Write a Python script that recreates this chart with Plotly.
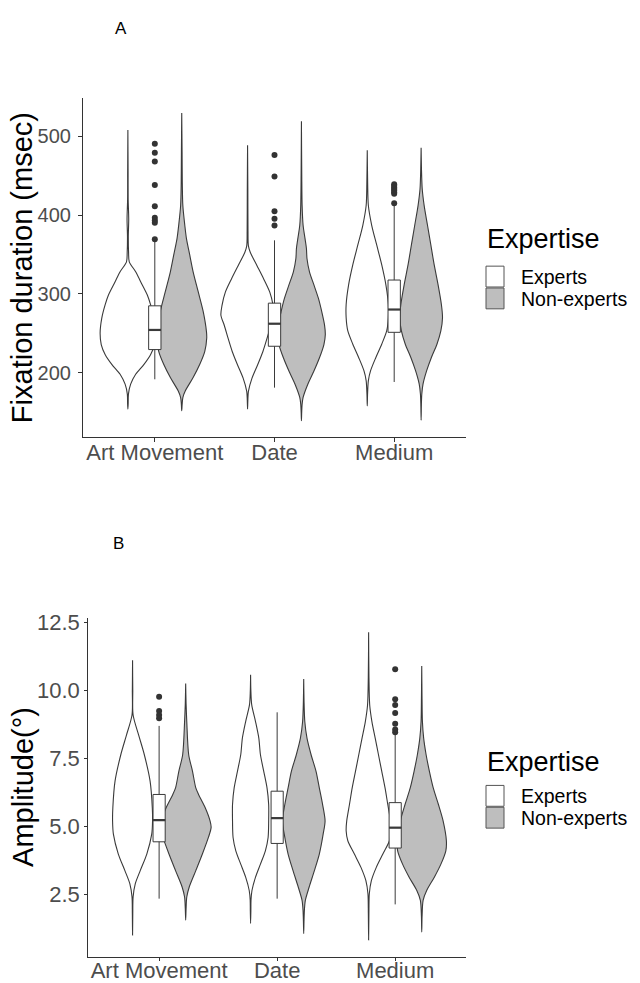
import plotly.graph_objects as go

# ---------------- data ----------------
categories = ["Art Movement", "Date", "Medium"]
groups = ["Experts", "Non-experts"]

# violin density profiles: (value, relative half-width)
# Panel A: fixation duration (msec)
fa_exp_art = [(153.8, 0), (160, 0.01), (172.8, 0.02), (185.4, 0.10), (198, 0.28), (210.6, 0.58),
              (223.2, 0.82), (235.7, 0.96), (250.4, 1.0), (269.3, 0.94), (286, 0.82), (298.6, 0.70),
              (315.4, 0.46), (328, 0.28), (340.6, 0.05), (352, 0.025), (372, 0.015), (395, 0.03),
              (420, 0.01), (455, 0.008), (507.7, 0)]
fa_non_art = [(151.6, 0), (160, 0.015), (168.5, 0.04), (177, 0.13), (193.8, 0.41), (210.6, 0.65),
              (227, 0.83), (244, 0.90), (252, 0.89), (278, 0.77), (303, 0.59), (328, 0.41),
              (349, 0.29), (370, 0.17), (387, 0.11), (412, 0.04), (440, 0.02), (480, 0.012), (529.5, 0)]
fa_exp_date = [(153.9, 0), (165, 0.01), (176.2, 0.03), (193, 0.16), (209.8, 0.36), (226.6, 0.55),
               (243.4, 0.70), (260.2, 0.84), (272.8, 0.96), (285.4, 0.92), (302.1, 0.80), (318.9, 0.58),
               (335.7, 0.34), (352.5, 0.10), (360.9, 0.03), (380, 0.015), (430, 0.01), (488.4, 0)]
fa_non_date = [(139, 0), (150, 0.01), (160, 0.025), (168.6, 0.06), (185.4, 0.23), (202.1, 0.45),
               (218.9, 0.65), (235.7, 0.81), (248.3, 0.86), (260.9, 0.83), (277.7, 0.73), (294.5, 0.61),
               (311.3, 0.45), (328, 0.29), (344.9, 0.20), (357.5, 0.18), (370, 0.13), (387, 0.06),
               (412, 0.025), (450, 0.012), (519, 0)]
fa_exp_med = [(157.9, 0), (172, 0.01), (189.9, 0.04), (202.5, 0.12), (219.3, 0.31), (236.1, 0.52),
              (252.9, 0.70), (269.7, 0.76), (286.5, 0.76), (311.7, 0.67), (337, 0.52), (362, 0.34),
              (387, 0.16), (412, 0.04), (440, 0.015), (482.1, 0)]
fa_non_med = [(139.8, 0), (160, 0.01), (173, 0.025), (185.7, 0.07), (202.5, 0.2), (219.3, 0.37),
              (236.1, 0.57), (252.9, 0.71), (269.7, 0.77), (286.5, 0.73), (311.7, 0.61), (337, 0.47),
              (362, 0.35), (387, 0.23), (412, 0.11), (433, 0.04), (460, 0.012), (485.4, 0)]

# Panel B: amplitude (deg)
am_exp_art = [(1.01, 0), (1.8, 0.008), (2.41, 0.02), (2.90, 0.10), (3.38, 0.28), (3.99, 0.52),
              (4.72, 0.70), (5.21, 0.73), (5.70, 0.72), (6.67, 0.64), (7.64, 0.43), (8.37, 0.22),
              (9.10, 0.02), (10.0, 0.008), (11.11, 0)]
am_non_art = [(1.56, 0), (2.0, 0.015), (2.41, 0.04), (2.78, 0.13), (3.38, 0.37), (3.99, 0.61),
              (4.60, 0.83), (4.97, 0.93), (5.21, 0.89), (5.70, 0.71), (6.18, 0.47), (6.42, 0.37),
              (7.03, 0.25), (7.64, 0.11), (8.86, 0.04), (9.5, 0.015), (10.26, 0)]
am_exp_date = [(1.44, 0), (1.9, 0.01), (2.29, 0.015), (2.65, 0.05), (3.14, 0.18), (3.62, 0.36),
               (4.11, 0.54), (4.60, 0.64), (5.21, 0.66), (5.81, 0.66), (6.42, 0.60), (7.03, 0.48),
               (7.64, 0.36), (8.25, 0.30), (8.86, 0.18), (9.48, 0.04), (10.0, 0.01), (10.58, 0)]
am_non_date = [(1.07, 0), (1.5, 0.01), (1.93, 0.025), (2.29, 0.06), (2.78, 0.20), (3.38, 0.39),
               (3.99, 0.57), (4.72, 0.71), (5.21, 0.78), (5.81, 0.69), (6.42, 0.57), (7.03, 0.45),
               (7.64, 0.27), (8.25, 0.12), (8.86, 0.04), (9.6, 0.012), (10.42, 0)]
am_exp_med = [(0.83, 0), (1.8, 0.01), (2.53, 0.025), (3.01, 0.10), (3.50, 0.28), (3.99, 0.52),
              (4.48, 0.76), (4.84, 0.82), (5.21, 0.80), (5.81, 0.70), (6.42, 0.60), (7.03, 0.48),
              (7.64, 0.36), (8.25, 0.24), (8.86, 0.12), (9.46, 0.04), (10.5, 0.012), (12.14, 0)]
am_non_med = [(1.13, 0), (1.7, 0.012), (2.29, 0.05), (2.65, 0.18), (3.14, 0.46), (3.62, 0.70),
              (4.11, 0.88), (4.48, 0.90), (5.21, 0.78), (5.81, 0.61), (6.42, 0.42), (7.03, 0.28),
              (7.64, 0.16), (8.25, 0.07), (8.86, 0.025), (9.8, 0.01), (10.90, 0)]

# boxplot statistics per category
fa_q1 = [229.3, 233.5, 251.2]
fa_median = [254.2, 262.1, 280.1]
fa_q3 = [284.8, 288.2, 317.5]
fa_lower = [191.6, 181.0, 188.2]
fa_upper = [365.8, 367.9, 412.0]
fa_outliers = [[490.4, 479.1, 467.8, 438.0, 411.0, 396.5, 393.0, 390.2, 369.1],
               [476.2, 448.9, 404.8, 395.2, 386.8],
               [415.0, 427.0, 429.0, 431.0, 433.0, 435.0, 437.0, 439.0]]

am_q1 = [4.44, 4.38, 4.21]
am_median = [5.24, 5.31, 4.96]
am_q3 = [6.18, 6.30, 5.88]
am_lower = [2.35, 2.35, 2.14]
am_upper = [8.70, 9.20, 8.43]
am_outliers = [[9.77, 9.25, 9.10, 8.98],
               [],
               [10.78, 9.68, 9.47, 9.17, 8.78, 8.57, 8.47]]

fa_ticks = [200, 300, 400, 500]
am_ticks = [2.5, 5.0, 7.5, 10.0, 12.5]

# ---------------- styling ----------------
W, H = 640, 983
LINE = "#3a3a3a"
GREY = "#bebebe"
FILLS = {"Experts": "white", "Non-experts": GREY}
DODGE = 0.225
VHALF = 0.232
BOXW = 0.103
FONT = "Liberation Sans, Arial, sans-serif"
XRANGE = [0.4, 3.6]
FA_RANGE = [118.5, 548]
AM_RANGE = [0.21, 12.68]

fig = go.Figure()

def add_panel(profiles, q1, med, q3, lo, hi, outliers, xa, ya, xo, yo):
    # violins (base subplot)
    for ci, cat in enumerate(categories):
        for gi, g in enumerate(groups):
            prof = profiles[ci][gi]
            c = ci + 1 + (-DODGE if gi == 0 else DODGE)
            ys = [p[0] for p in prof]
            ws = [p[1] for p in prof]
            xs = [c + VHALF * w for w in ws] + [c - VHALF * w for w in ws[::-1]]
            yy = ys + ys[::-1]
            fig.add_trace(go.Scatter(
                x=xs, y=yy, mode="lines", fill="toself", fillcolor=FILLS[g],
                line=dict(color=LINE, width=1.1, shape="spline", smoothing=0.8),
                xaxis=xa, yaxis=ya, hoverinfo="skip", showlegend=False, name=g))
    # boxes (overlay subplot so they sit above the violins)
    pos = [i + 1 for i in range(len(categories))]
    fig.add_trace(go.Box(
        x=pos, q1=q1, median=med, q3=q3, lowerfence=lo, upperfence=hi,
        width=BOXW, whiskerwidth=0, fillcolor="white", boxpoints=False,
        line=dict(color=LINE, width=1), xaxis=xo, yaxis=yo, showlegend=False,
        hoverinfo="skip"))
    # thicker median lines
    for i, m in enumerate(med):
        fig.add_trace(go.Scatter(
            x=[pos[i] - BOXW / 2, pos[i] + BOXW / 2], y=[m, m], mode="lines",
            line=dict(color=LINE, width=2.2), xaxis=xo, yaxis=yo,
            hoverinfo="skip", showlegend=False))
    # outliers
    for i, pts in enumerate(outliers):
        if pts:
            fig.add_trace(go.Scatter(
                x=[pos[i]] * len(pts), y=pts, mode="markers",
                marker=dict(color="#333333", size=6), xaxis=xo, yaxis=yo,
                hoverinfo="skip", showlegend=False))

add_panel([[fa_exp_art, fa_non_art], [fa_exp_date, fa_non_date], [fa_exp_med, fa_non_med]],
          fa_q1, fa_median, fa_q3, fa_lower, fa_upper, fa_outliers, "x", "y", "x3", "y3")
add_panel([[am_exp_art, am_non_art], [am_exp_date, am_non_date], [am_exp_med, am_non_med]],
          am_q1, am_median, am_q3, am_lower, am_upper, am_outliers, "x2", "y2", "x4", "y4")

def px_x(p):
    return p / W

def px_y(p):
    return 1 - p / H

axis_common = dict(showline=True, linecolor="#333333", linewidth=1.1, showgrid=False,
                   zeroline=False, ticks="outside", tickcolor="#333333", tickwidth=1.1)
hidden = dict(visible=False, showgrid=False, zeroline=False)

fig.update_layout(
    width=W, height=H, margin=dict(l=0, r=0, t=0, b=0),
    paper_bgcolor="white", plot_bgcolor="white",
    showlegend=False,
    xaxis=dict(domain=[px_x(83), px_x(466)], range=XRANGE, tickvals=[1, 2, 3],
               ticktext=categories, anchor="y", ticklen=4, ticklabelstandoff=-8,
               tickfont=dict(family=FONT, size=22, color="#4d4d4d"), **axis_common),
    yaxis=dict(domain=[px_y(433), px_y(92)], range=FA_RANGE, tickvals=fa_ticks,
               anchor="x", ticklen=4, ticklabelstandoff=3,
               tickfont=dict(family=FONT, size=20, color="#4d4d4d"), **axis_common),
    xaxis2=dict(domain=[px_x(88.3), px_x(466)], range=XRANGE, tickvals=[1, 2, 3],
                ticktext=categories, anchor="y2", ticklen=3, ticklabelstandoff=-9,
                tickfont=dict(family=FONT, size=22, color="#4d4d4d"), **axis_common),
    yaxis2=dict(domain=[px_y(956.7), px_y(615)], range=AM_RANGE, tickvals=am_ticks,
                tickformat=".1f", anchor="x2", ticklen=3, ticklabelstandoff=0,
                tickfont=dict(family=FONT, size=22, color="#4d4d4d"), **axis_common),
    xaxis3=dict(overlaying="x", anchor="y3", range=XRANGE, **hidden),
    yaxis3=dict(overlaying="y", anchor="x3", range=FA_RANGE, **hidden),
    xaxis4=dict(overlaying="x2", anchor="y4", range=XRANGE, **hidden),
    yaxis4=dict(overlaying="y2", anchor="x4", range=AM_RANGE, **hidden),
)

annotations = []
shapes = []

def text(x, y, s, size, angle=0, xanchor="center", color="black"):
    annotations.append(dict(x=px_x(x), y=px_y(y), xref="paper", yref="paper", text=s,
                            showarrow=False, textangle=angle, xanchor=xanchor,
                            yanchor="middle", font=dict(family=FONT, size=size, color=color)))

# panel letters
text(121, 22, "A", 17)
text(118, 540, "B", 17)
# y-axis titles
text(22, 263, "Fixation duration (msec)", 29, angle=-90)
text(23.5, 786, "Amplitude(°)", 29, angle=-90)

# legends
def legend(title_y, key_top):
    text(485, title_y, "Expertise", 27, xanchor="left")
    for k, g in enumerate(groups):
        top = key_top + k * 22
        shapes.append(dict(type="rect", xref="paper", yref="paper",
                           x0=px_x(486), x1=px_x(504), y0=px_y(top + 21), y1=px_y(top),
                           fillcolor=FILLS[g], line=dict(color="#555555", width=1)))
        text(519, top + 11, g, 19.5, xanchor="left")

legend(234, 261)
legend(760, 784)

fig.update_layout(annotations=annotations, shapes=shapes)
fig.write_html("out.html")
